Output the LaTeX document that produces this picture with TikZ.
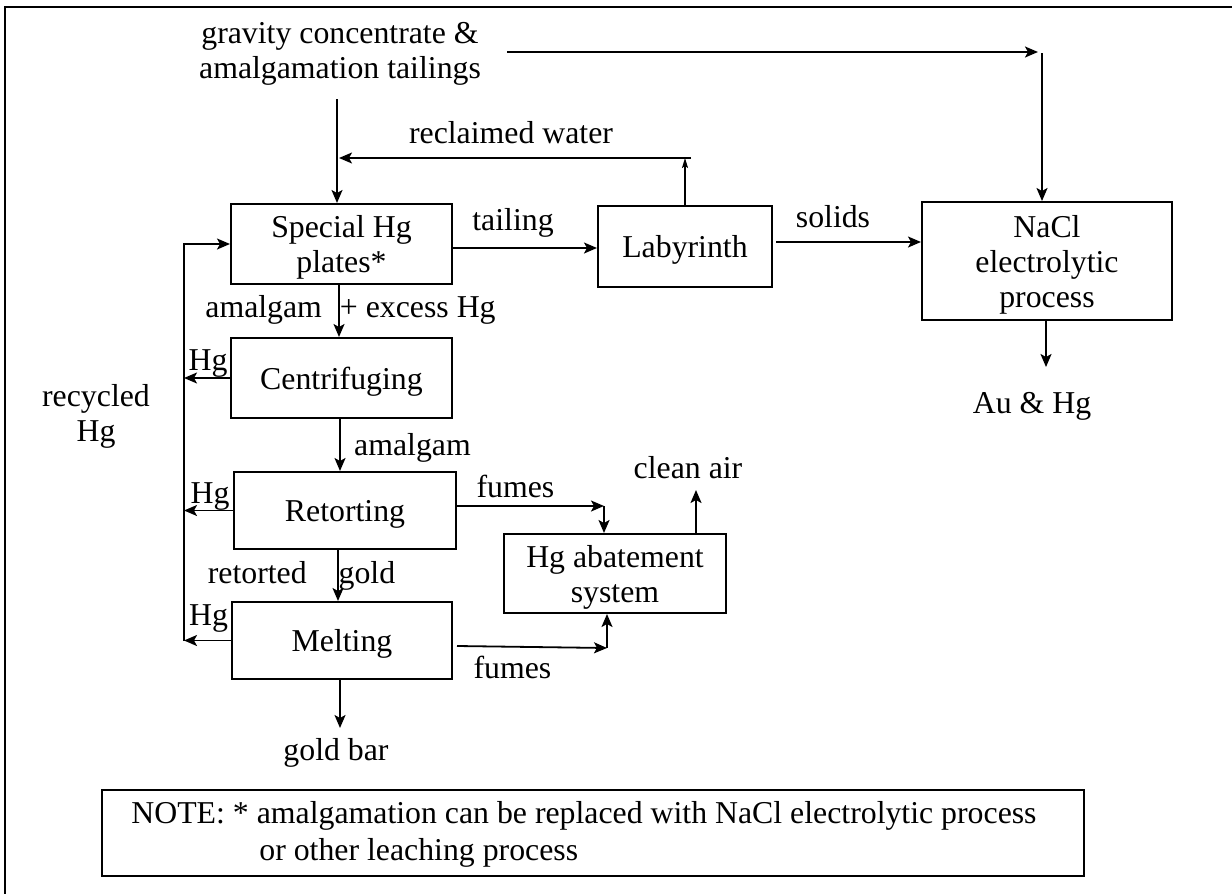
\documentclass[tikz,border=0pt]{standalone}
\usepackage{fontspec}
\setmainfont{Liberation Serif}
\usetikzlibrary{arrows.meta}
\begin{document}
\begin{tikzpicture}[x=0.5pt,y=-0.5pt,
  font=\fontsize{15.9}{17.5}\selectfont,
  box/.style={draw,line width=1pt,align=center,inner sep=0pt,text depth=0pt},
  arr/.style={line width=0.9pt,-{Stealth[length=6.5pt,width=5.5pt,inset=1.5pt]}},
  arrs/.style={line width=0.7pt,-{Stealth[length=5pt,width=3pt,inset=1pt]}},
  lbl/.style={anchor=base,inner sep=0pt}]
\useasboundingbox (0,0) rectangle (1232,894);
% frame
\coordinate (bTR) at (1232,7);
\coordinate (bTL) at (5,7);
\coordinate (bBL) at (5,894);
\draw[line width=1pt] (bTR) -- (bTL) -- (bBL);

% boxes
\node[box,minimum width=110.5pt,minimum height=40pt] (sp) at (341.5,244) {Special Hg\\plates*};
\node[box,minimum width=87pt,minimum height=40.5pt] (lab) at (685,246.5) {Labyrinth};
\node[box,minimum width=125pt,minimum height=59pt] (nacl) at (1047,261) {NaCl\\electrolytic\\process};
\node[box,minimum width=110.5pt,minimum height=40pt] (cen) at (341.5,378) {Centrifuging};
\node[box,minimum width=111pt,minimum height=38.5pt] (ret) at (345,510.5) {Retorting};
\node[box,minimum width=110pt,minimum height=38.5pt] (mel) at (342,640.5) {Melting};
\node[box,minimum width=111pt,minimum height=39.5pt] (aba) at (615,573.5) {Hg abatement\\system};
\node[box,minimum width=491pt,minimum height=43pt] (note) at (593,833) {};

% texts
\node[align=center] (src) at (340,54) {gravity concentrate \&\\amalgamation tailings};
\node[lbl] (lrw) at (511,143) {reclaimed water};
\node[lbl] (ltail) at (513,230) {tailing};
\node[lbl] (lsol) at (833,227) {solids};
\node[lbl] (lau) at (1032,413) {Au \& Hg};
\node[lbl] (lamx) at (350.5,317) {amalgam\hspace{5pt} + excess Hg};
\node[lbl] (lhg1) at (208,370) {Hg};
\node[lbl] (lhg2) at (210,503) {Hg};
\node[lbl] (lhg3) at (208.5,625) {Hg};
\node[align=center,inner sep=0pt] (lrec) at (96,416) {recycled\\Hg};
\node[lbl] (lam2) at (412.5,455) {amalgam};
\node[lbl] (lf1) at (515.5,497) {fumes};
\node[lbl] (lf2) at (512.5,678) {fumes};
\node[lbl] (lca) at (688,478) {clean air};
\node[lbl] (lrg) at (301.5,583) {retorted\hspace{12pt} gold};
\node[lbl] (lgb) at (336,760) {gold bar};
\node[lbl,anchor=base west] (nt1) at (131,823) {NOTE: * amalgamation can be replaced with NaCl electrolytic process};
\node[lbl,anchor=base west] (nt2) at (259,860) {or other leaching process};

% connectors
\coordinate (s1) at (337,99);
\draw[arr] (s1) -- (s1 |- sp.north);
\coordinate (topA) at (507,52);
\coordinate (topB) at (1038,52);
\draw[arr] (topA) -- (topB);
\coordinate (n1) at (1042,53);
\draw[arr] (n1) -- (n1 |- nacl.north);
\coordinate (rw) at (685,158);
\coordinate (rwR) at (691,158);
\coordinate (rwL) at (339,158);
\draw[arrs] (rw |- lab.north) -- (rw);
\draw[arr] (rwR) -- (rwL);
\coordinate (t1) at (452,248);
\draw[arr] (t1 -| sp.east) -- (t1 -| lab.west);
\coordinate (s2) at (776,242);
\draw[arr] (s2) -- (s2 -| nacl.west);
\coordinate (n2) at (1046,367);
\draw[arr] (n2 |- nacl.south) -- (n2);
\coordinate (c1) at (339,0);
\draw[arr] (c1 |- sp.south) -- (c1 |- cen.north);
\coordinate (c2) at (340,0);
\draw[arr] (c2 |- cen.south) -- (c2 |- ret.north);
\coordinate (c3) at (338,0);
\draw[arr] (c3 |- ret.south) -- (c3 |- mel.north);
\coordinate (gb) at (340,728);
\draw[arr] (gb |- mel.south) -- (gb);
\coordinate (rx) at (184,0);
\draw[arr] (cen.west) -- (cen.west -| rx);
\draw[arr] (ret.west) -- (ret.west -| rx);
\draw[arr] (mel.west) -- (mel.west -| rx);
\draw[arr] (rx |- mel.west) -- (rx |- sp.west) -- (sp.west);
\coordinate (f1) at (604,506);
\draw[arr] (f1 -| ret.east) -- (f1);
\draw[arr] (f1) -- (f1 |- aba.north);
\coordinate (f2s) at (457,646);
\coordinate (f2) at (607,648);
\draw[arr] (f2s) -- (f2);
\draw[arr] (f2) -- (f2 |- aba.south);
\coordinate (ca) at (696,490);
\draw[arr] (ca |- aba.north) -- (ca);
\end{tikzpicture}
\end{document}
